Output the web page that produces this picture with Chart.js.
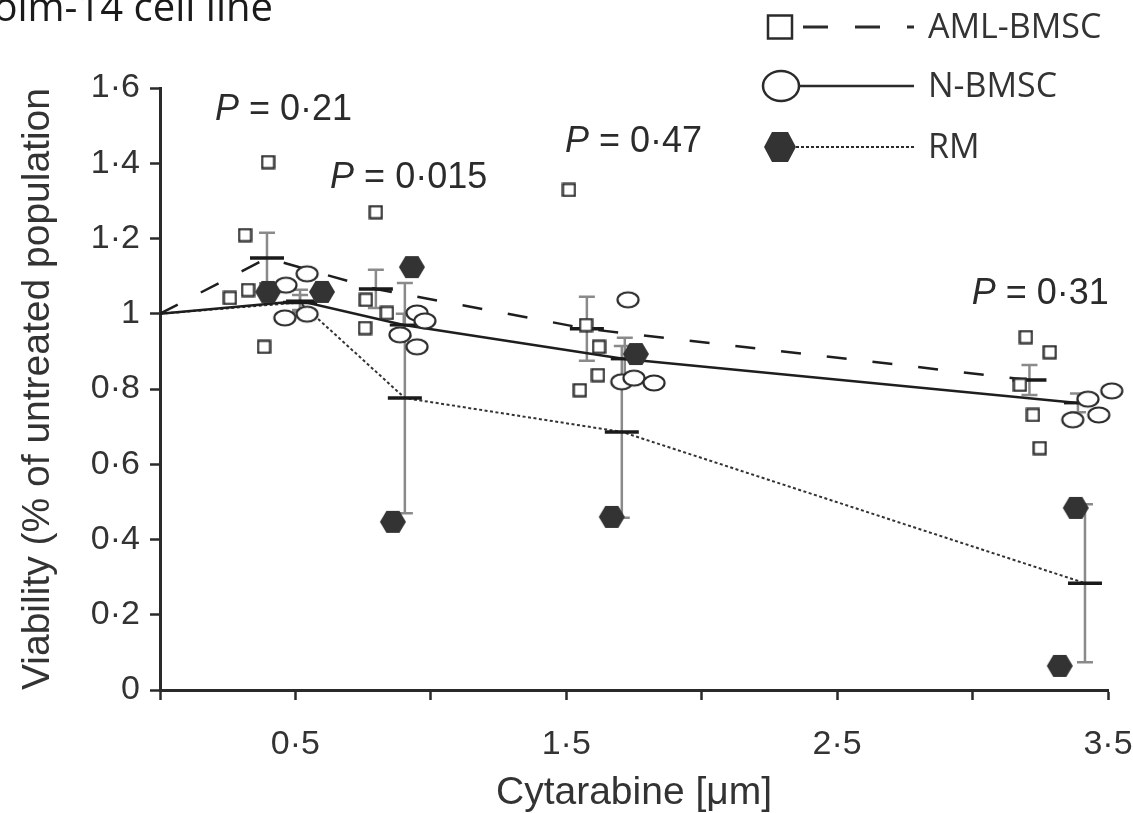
<!DOCTYPE html>
<html>
<head>
<meta charset="utf-8">
<script src="https://cdn.jsdelivr.net/npm/chart.js@4.4.1/dist/chart.umd.min.js"></script>
<style>
  html, body { margin: 0; padding: 0; background: #fff; }
  canvas { display: block; }
</style>
</head>
<body>
<canvas id="chart" width="1133" height="813"></canvas>
<script>
// Molm-14 viability after cytarabine: co-culture with AML-BMSC, N-BMSC, or RM alone

// Axis ticks
const doseTicks = [0, 0.5, 1, 1.5, 2, 2.5, 3, 3.5];
const labelledDoses = [0.5, 1.5, 2.5, 3.5];
const viabilityTicks = [0, 0.2, 0.4, 0.6, 0.8, 1, 1.2, 1.4, 1.6];

// Untreated reference (all series start here)
const startDose = 0;
const startViability = 1;

// Individual replicates – AML-BMSC
const amlX = [0.399, 0.314, 0.325, 0.258, 0.384,
              0.797, 0.760, 0.838, 0.757,
              1.510, 1.573, 1.621, 1.617, 1.550,
              3.197, 3.285, 3.175, 3.223, 3.248];
const amlY = [1.403, 1.209, 1.063, 1.042, 0.912,
              1.270, 1.037, 1.002, 0.962,
              1.329, 0.970, 0.912, 0.837, 0.797,
              0.938, 0.898, 0.811, 0.731, 0.643];

// Individual replicates – N-BMSC
const nX = [0.465, 0.543, 0.461, 0.543,
            0.949, 0.978, 0.886, 0.949,
            1.728, 1.705, 1.750, 1.824,
            3.370, 3.426, 3.466, 3.514];
const nY = [1.076, 1.106, 0.989, 0.999,
            1.002, 0.981, 0.944, 0.912,
            1.037, 0.819, 0.829, 0.816,
            0.718, 0.773, 0.731, 0.795];

// Individual replicates – RM
const rmX = [0.399, 0.598, 0.930, 0.860, 1.757, 1.668, 3.381, 3.322];
const rmY = [1.058, 1.058, 1.124, 0.447, 0.893, 0.460, 0.484, 0.064];

// Group means and SD
const amlMeanX = [0.395, 0.797, 1.576, 3.210];
const amlMeanY = [1.148, 1.066, 0.960, 0.824];
const amlSd    = [0.067, 0.051, 0.085, 0.040];

const nMeanX = [0.517, 0.900, 1.716, 3.389];
const nMeanY = [1.034, 0.970, 0.880, 0.763];
const nSd    = [0.030, 0.030, 0.056, 0.025];

const rmMeanX = [0.517, 0.904, 1.705, 3.415];
const rmMeanY = [1.030, 0.776, 0.686, 0.284];
const rmSd    = [0.020, 0.306, 0.228, 0.210];

// Significance per dose
const pValues = ['0·21', '0·015', '0·47', '0·31'];

const fmt = v => String(v).replace('.', '·');
const pts = (xs, ys) => xs.map((x, i) => ({ x, y: ys[i] }));

// Marker glyphs
function makeSquare(side, lw) {
  const c = document.createElement('canvas');
  c.width = c.height = side + lw + 1;
  const g = c.getContext('2d');
  g.fillStyle = '#fff';
  g.strokeStyle = '#2b2b2b';
  g.lineWidth = lw;
  const o = (c.width - side) / 2;
  g.fillRect(o, o, side, side);
  g.strokeRect(o, o, side, side);
  return c;
}
function makeEllipse(rx, ry, lw) {
  const c = document.createElement('canvas');
  c.width = Math.ceil(2 * rx + lw + 2);
  c.height = Math.ceil(2 * ry + lw + 2);
  const g = c.getContext('2d');
  g.beginPath();
  g.ellipse(c.width / 2, c.height / 2, rx, ry, 0, 0, Math.PI * 2);
  g.fillStyle = '#fff';
  g.fill();
  g.strokeStyle = '#2b2b2b';
  g.lineWidth = lw;
  g.stroke();
  return c;
}
function hexPath(g, cx, cy, w, h) {
  g.beginPath();
  g.moveTo(cx - w / 2, cy);
  g.lineTo(cx - w / 4, cy - h / 2);
  g.lineTo(cx + w / 4, cy - h / 2);
  g.lineTo(cx + w / 2, cy);
  g.lineTo(cx + w / 4, cy + h / 2);
  g.lineTo(cx - w / 4, cy + h / 2);
  g.closePath();
}
function makeHex(w, h) {
  const c = document.createElement('canvas');
  c.width = w + 2; c.height = h + 2;
  const g = c.getContext('2d');
  hexPath(g, c.width / 2, c.height / 2, w, h);
  g.fillStyle = '#333';
  g.fill();
  return c;
}

const squareImg = makeSquare(12, 2.2);
const ellipseImg = makeEllipse(10.5, 7.5, 2.2);
const hexImg = makeHex(26, 22);

// Error bars (mean ± SD)
const errorBars = {
  id: 'errorBars',
  beforeDatasetsDraw(chart) {
    const { ctx, scales: { x, y } } = chart;
    const groups = [
      [amlMeanX, amlMeanY, amlSd],
      [nMeanX, nMeanY, nSd],
      [rmMeanX, rmMeanY, rmSd]
    ];
    ctx.save();
    ctx.strokeStyle = '#8a8a8a';
    ctx.lineWidth = 2.5;
    groups.forEach(([mx, my, sd]) => {
      mx.forEach((xv, i) => {
        const px = x.getPixelForValue(xv);
        const top = y.getPixelForValue(my[i] + sd[i]);
        const bot = y.getPixelForValue(my[i] - sd[i]);
        ctx.beginPath();
        ctx.moveTo(px, top); ctx.lineTo(px, bot);
        ctx.moveTo(px - 8, top); ctx.lineTo(px + 8, top);
        ctx.moveTo(px - 8, bot); ctx.lineTo(px + 8, bot);
        ctx.stroke();
      });
    });
    ctx.restore();
  }
};

// P-value labels, legend and panel caption
const annotations = {
  id: 'annotations',
  afterDraw(chart, args, opts) {
    const { ctx, scales: { x, y } } = chart;
    ctx.save();
    ctx.fillStyle = '#2b2b2b';
    ctx.textBaseline = 'alphabetic';
    ctx.textAlign = 'left';
    opts.pLabels.forEach((lab, i) => {
      const px = x.getPixelForValue(lab.x);
      const py = y.getPixelForValue(lab.y);
      ctx.font = 'italic 36px "Liberation Sans", Arial, sans-serif';
      ctx.fillText('P', px, py);
      const w = ctx.measureText('P').width;
      ctx.font = '36px "Liberation Sans", Arial, sans-serif';
      ctx.fillText(' = ' + pValues[i], px + w, py);
    });

    // legend
    const lx0 = 780, lineStart = 803, lineEnd = 914, textX = 928;
    const rows = [27, 86, 147];
    ctx.font = '34px "Open Sans", sans-serif';
    ctx.textBaseline = 'middle';
    ctx.fillStyle = '#333';
    ctx.strokeStyle = '#2b2b2b';

    ctx.lineWidth = 2.5;
    ctx.strokeRect(lx0 - 12, rows[0] - 11.5, 24, 23);
    ctx.lineWidth = 3;
    ctx.setLineDash([25, 27]);
    ctx.beginPath(); ctx.moveTo(lineStart, rows[0]); ctx.lineTo(lineEnd, rows[0]); ctx.stroke();
    ctx.setLineDash([]);
    ctx.fillText('AML-BMSC', textX, rows[0] + 1);

    ctx.lineWidth = 2.5;
    ctx.beginPath(); ctx.ellipse(lx0 + 1, rows[1], 18, 15, 0, 0, Math.PI * 2); ctx.stroke();
    ctx.beginPath(); ctx.moveTo(lx0 + 19, rows[1]); ctx.lineTo(lineEnd, rows[1]); ctx.stroke();
    ctx.fillText('N-BMSC', textX, rows[1] + 1);

    hexPath(ctx, lx0, rows[2], 32, 30);
    ctx.fillStyle = '#333';
    ctx.fill();
    ctx.lineWidth = 2;
    ctx.setLineDash([3, 2]);
    ctx.beginPath(); ctx.moveTo(lx0 + 16, rows[2]); ctx.lineTo(lineEnd, rows[2]); ctx.stroke();
    ctx.setLineDash([]);
    ctx.fillText('RM', textX, rows[2] + 1);

    // panel caption
    ctx.font = '40px "Open Sans", sans-serif';
    ctx.textAlign = 'right';
    ctx.textBaseline = 'alphabetic';
    ctx.fillStyle = '#1a1a1a';
    ctx.fillText('Molm-14 cell line', 273, 21);
    ctx.restore();
  }
};

const tickFont = { family: '"Liberation Sans", Arial, sans-serif', size: 34 };
const titleFont = { family: '"Liberation Sans", Arial, sans-serif', size: 39, lineHeight: 1 };

new Chart(document.getElementById('chart'), {
  type: 'scatter',
  data: {
    datasets: [
      { label: 'AML-BMSC', data: pts(amlX, amlY), pointStyle: squareImg, pointRadius: 8, clip: false, order: 1 },
      { label: 'N-BMSC', data: pts(nX, nY), pointStyle: ellipseImg, pointRadius: 10, clip: false, order: 2 },
      { label: 'RM', data: pts(rmX, rmY), pointStyle: hexImg, pointRadius: 11, clip: false, order: 0 },

      { data: pts([startDose, ...amlMeanX], [startViability, ...amlMeanY]), showLine: true,
        borderColor: '#1e1e1e', borderWidth: 2.5, borderDash: [20, 26], pointRadius: 0, order: 10 },
      { data: pts([startDose, ...nMeanX], [startViability, ...nMeanY]), showLine: true,
        borderColor: '#1e1e1e', borderWidth: 2.5, pointRadius: 0, order: 10 },
      { data: pts([startDose, ...rmMeanX], [startViability, ...rmMeanY]), showLine: true,
        borderColor: '#333', borderWidth: 2, borderDash: [3, 2.5], pointRadius: 0, order: 10 },

      { data: pts(amlMeanX, amlMeanY), pointStyle: 'line', pointRadius: 17,
        pointBorderWidth: 3.5, pointBorderColor: '#1a1a1a', order: 5 },
      { data: pts(nMeanX, nMeanY), pointStyle: 'line', pointRadius: 14,
        pointBorderWidth: 3, pointBorderColor: '#1a1a1a', order: 5 },
      { data: pts(rmMeanX, rmMeanY), pointStyle: 'line', pointRadius: 17,
        pointBorderWidth: 3.5, pointBorderColor: '#1a1a1a', order: 5 }
    ]
  },
  options: {
    responsive: false,
    animation: false,
    events: [],
    devicePixelRatio: 1,
    layout: { padding: { top: 88, right: 25, left: 0, bottom: 0 } },
    plugins: {
      legend: { display: false },
      tooltip: { enabled: false },
      annotations: {
        pLabels: [
          { x: 0.203, y: 1.515 },
          { x: 0.628, y: 1.334 },
          { x: 1.495, y: 1.430 },
          { x: 2.997, y: 1.026 }
        ]
      }
    },
    scales: {
      x: {
        type: 'linear', position: 'bottom', min: 0, max: 3.5,
        afterBuildTicks: s => { s.ticks = doseTicks.map(v => ({ value: v })); },
        afterFit: s => { s.height = 123; s.paddingRight = 0; s.paddingLeft = 0; },
        grid: { drawOnChartArea: false, drawTicks: true, tickLength: 10, tickWidth: 2.5, tickColor: '#2a2a2a' },
        border: { display: true, color: '#2a2a2a', width: 3 },
        ticks: {
          font: tickFont, color: '#333', padding: 24, maxRotation: 0, autoSkip: false,
          callback: v => labelledDoses.includes(v) ? fmt(v) : ''
        },
        title: { display: true, text: 'Cytarabine [μm]', font: titleFont, color: '#333', padding: { top: 0, bottom: 0 } }
      },
      y: {
        type: 'linear', position: 'left', min: 0, max: 1.6,
        afterBuildTicks: s => { s.ticks = viabilityTicks.map(v => ({ value: v })); },
        afterFit: s => { s.width = 160; },
        grid: { drawOnChartArea: false, drawTicks: true, tickLength: 10, tickWidth: 2.5, tickColor: '#2a2a2a' },
        border: { display: true, color: '#2a2a2a', width: 3 },
        ticks: { font: tickFont, color: '#333', padding: 10, autoSkip: false, callback: v => fmt(v) },
        title: { display: true, text: 'Viability (% of untreated population', font: titleFont, color: '#333', padding: { top: 19, bottom: 0 } }
      }
    }
  },
  plugins: [errorBars, annotations]
});
</script>
</body>
</html>
